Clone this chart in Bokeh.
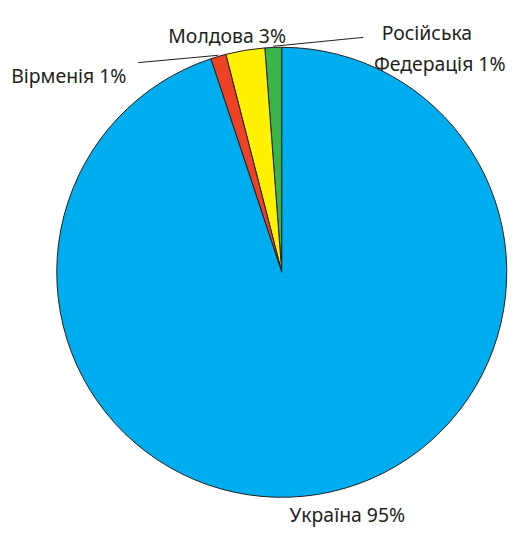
import math
from bokeh.plotting import figure
from bokeh.models import Range1d, ColumnDataSource
from bokeh.core.properties import value
from bokeh.embed import file_html
from bokeh.resources import INLINE

# Data (counter-clockwise from 12 o'clock)
countries = ["Російська Федерація", "Молдова", "Вірменія", "Україна"]
shares = [1.2, 2.8, 1.1, 94.9]
colors = ["#3AB54A", "#FFF200", "#EF4123", "#00AEEF"]
label_lines = [["Російська", "Федерація 1%"], ["Молдова 3%"], ["Вірменія 1%"], ["Україна 95%"]]

# drawing frame in reference-pixel units, shown in a figure that fits the window
RW, RH = 531, 546
W, H = 515, 530
p = figure(width=W, height=H, output_backend="svg", toolbar_location=None,
           x_range=Range1d(0, RW), y_range=Range1d(0, RH),
           min_border=0)
p.axis.visible = False
p.grid.visible = False
p.outline_line_color = None
p.background_fill_color = "white"
p.border_fill_color = "white"

cx, cy, r = 290, RH - 280, 232
total = sum(shares)
starts, ends = [], []
acc = 0.0
for s in shares:
    a0 = math.pi / 2 + 2 * math.pi * acc / total
    acc += s
    a1 = math.pi / 2 + 2 * math.pi * acc / total
    starts.append(a0)
    ends.append(a1)

src = ColumnDataSource(dict(start=starts, end=ends, color=colors, name=countries))
p.wedge(x=cx, y=cy, radius=r, start_angle="start", end_angle="end", direction="anticlock",
        fill_color="color", line_color="#231F20", line_width=1, source=src)

def edge_point(i, rr=r):
    m = (starts[i] + ends[i]) / 2
    return cx + rr * math.cos(m), cy + rr * math.sin(m)

# leader lines (from slice edge to label)
ex, ey = edge_point(0, r + 1)
p.line([ex, 374], [ey, RH - 38], line_color="#231F20", line_width=1)
ex, ey = edge_point(2, r + 1)
p.line([ex, 142], [ey, RH - 64], line_color="#231F20", line_width=1)

font = value("Noto Sans")
tc = "#231F20"
fs = "19.4px"
positions = {
    (0, 0): (393, 33),
    (0, 1): (385, 65),
    (1, 0): (173, 36),
    (2, 0): (11, 77),
    (3, 0): (298, 530),
}
for (i, j), (x, yb) in positions.items():
    p.text(x=[x], y=[RH - yb], text=[label_lines[i][j]], text_font=font,
           text_font_size=fs, text_color=tc, text_align="left", text_baseline="alphabetic")

open("out.html", "w").write(file_html(p, INLINE))
